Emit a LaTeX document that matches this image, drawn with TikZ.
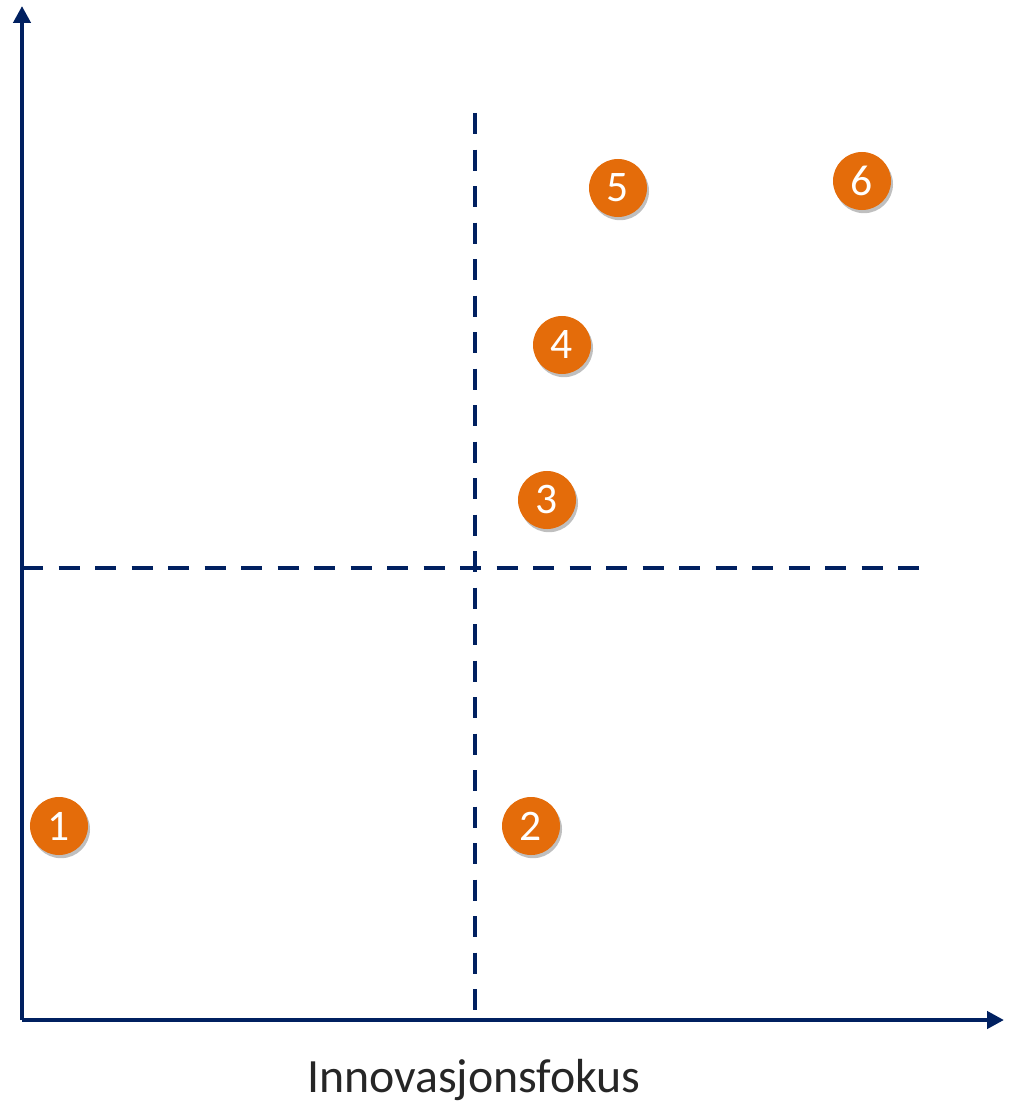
\documentclass[tikz,border=0pt]{standalone}
\usepackage{fontspec}
\setmainfont{Carlito}
\usetikzlibrary{arrows.meta,shadows}
\definecolor{navy}{HTML}{002060}
\definecolor{burnt}{HTML}{E46C0A}
\definecolor{textgrey}{HTML}{262626}

\tikzset{
    axis/.style={line width=0.115cm, navy, -{Triangle[length=0.42cm,width=0.42cm]}},
    divider/.style={line width=0.11cm, navy, dash pattern=on 0.525cm off 0.3875cm},
    marker/.style={circle, fill=burnt, minimum size=1.45cm, inner sep=0pt,
        text=white, font=\fontsize{31}{31}\selectfont,
        drop shadow={shadow xshift=0.05cm, shadow yshift=-0.08cm, opacity=0.25, fill=black}}
}

\begin{document}
\begin{tikzpicture}[x=0.025cm, y=-0.025cm]
    \useasboundingbox (0,0) rectangle (1012,1103);

    % axes
    \coordinate (origin) at (22,1020);
    \coordinate (ytop) at (22,6);
    \coordinate (xend) at (1004,1020);
    \draw [axis] (origin) -- (ytop);
    \draw [axis] (origin) -- (xend);

    % quadrant split
    \coordinate (vtop) at (475,113);
    \coordinate (vbot) at (475,1010);
    \coordinate (hleft) at (22,568);
    \coordinate (hright) at (920,568);
    \draw [divider] (vtop) -- (vbot);
    \draw [divider] (hleft) -- (hright);

    % numbered points
    \node (p1) [marker] at (59,826) {1};
    \node (p2) [marker] at (531,826) {2};
    \node (p3) [marker] at (547,500) {3};
    \node (p4) [marker] at (562,345) {4};
    \node (p5) [marker] at (618,188) {5};
    \node (p6) [marker] at (862,181) {6};

    \node (xlabel) [text=textgrey, font=\fontsize{34}{34}\selectfont] at (474,1080) {Innovasjonsfokus};
\end{tikzpicture}
\end{document}
